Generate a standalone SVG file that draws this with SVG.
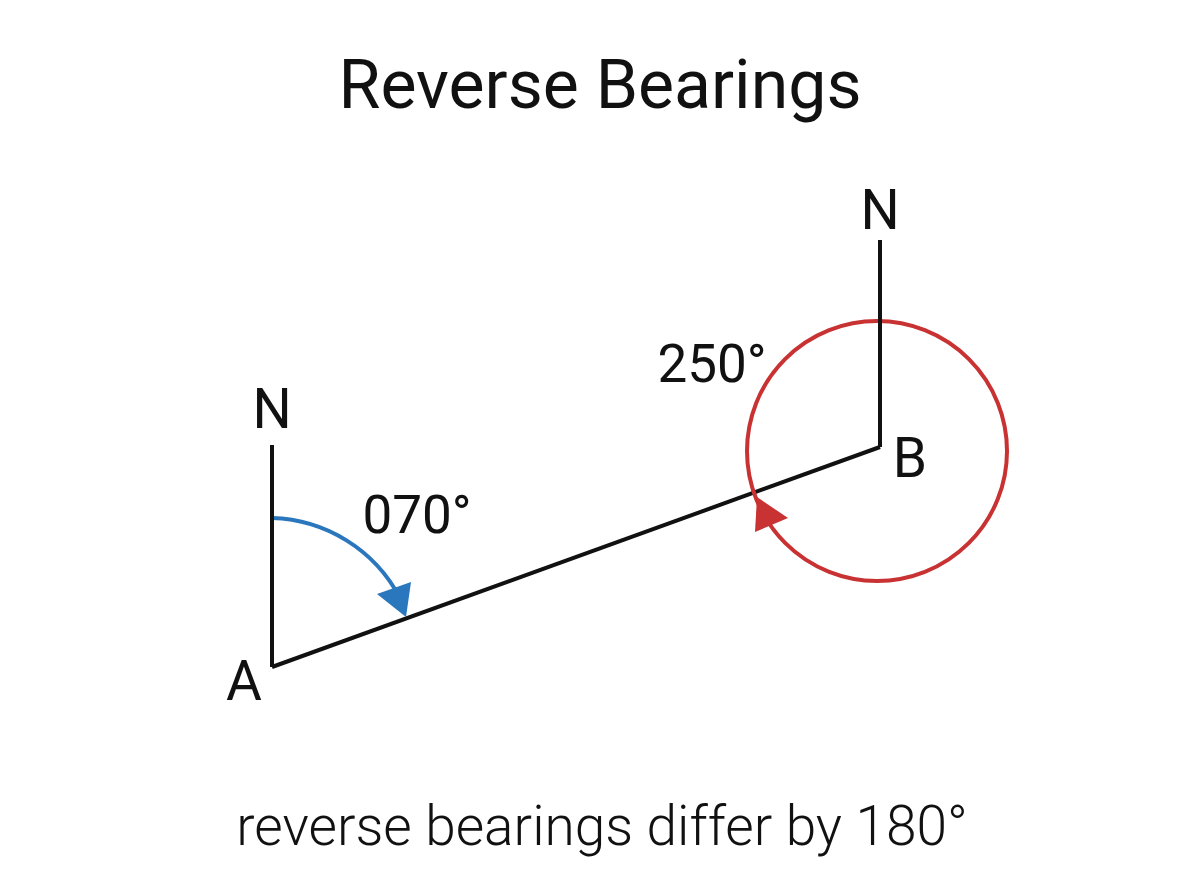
<svg xmlns="http://www.w3.org/2000/svg" width="1200" height="896" viewBox="0 0 1200 896">
<style>
.t{font-family:Roboto,"Liberation Sans",sans-serif;fill:#111}
.ln{stroke:#111;stroke-width:4;fill:none}
</style>
<rect width="1200" height="896" fill="#fff"/>
<text class="t" x="600" y="108" font-size="68" text-anchor="middle">Reverse Bearings</text>
<g id="connectors">
<line class="ln" x1="272" y1="667" x2="880" y2="447"/>
<path d="M272,518 A149,149 0 0 1 400,598" fill="none" stroke="#2a77bd" stroke-width="4"/>
<polygon points="406,617 411,582 377,594" fill="#2a77bd"/>
<circle cx="877" cy="451" r="130" fill="none" stroke="#c93232" stroke-width="4"/>
<polygon points="757,497 788,518 755,532" fill="#c93232"/>
</g>
<g id="A"><line class="ln" x1="272" y1="445" x2="272" y2="667"/>
<text class="t" x="272" y="428" font-size="55" text-anchor="middle">N</text>
<text class="t" x="244" y="700" font-size="55" text-anchor="middle">A</text>
<text class="t" x="417" y="533" font-size="53" text-anchor="middle">070°</text></g>
<g id="B"><line class="ln" x1="880" y1="240" x2="880" y2="447"/>
<text class="t" x="880" y="229" font-size="55" text-anchor="middle">N</text>
<text class="t" x="910" y="477" font-size="55" text-anchor="middle">B</text>
<text class="t" x="712" y="382" font-size="53" text-anchor="middle">250°</text></g>
<text class="t" x="602" y="845" font-size="55" font-weight="300" text-anchor="middle">reverse bearings differ by 180°</text>
</svg>
